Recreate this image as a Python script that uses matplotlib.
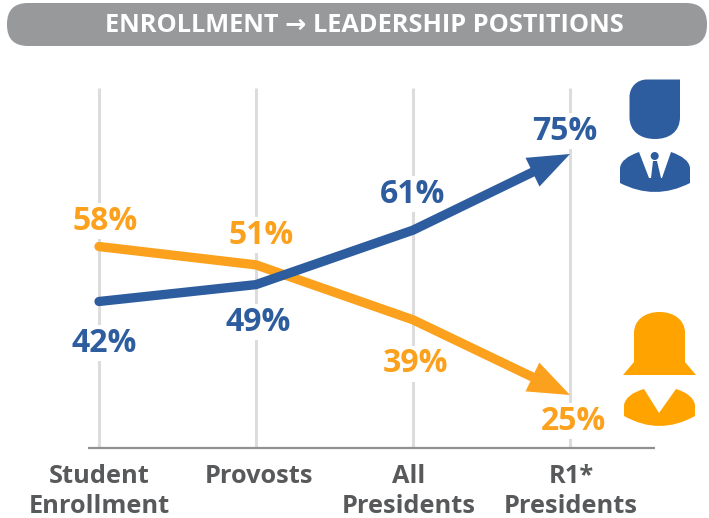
import matplotlib
matplotlib.use("Agg")
import matplotlib.pyplot as plt
from matplotlib.patches import Circle, FancyBboxPatch, PathPatch
from matplotlib.path import Path

# Chart data
categories = ["Student\nEnrollment", "Provosts", "All\nPresidents", "R1*\nPresidents"]
men_labels = [42, 49, 61, 75]
women_labels = [58, 51, 39, 25]
# heights the lines are drawn at; the original graphic is not to scale with its labels
men_heights = [44.4, 47.9, 59.2, 75.0]
women_heights = [55.8, 52.0, 40.6, 25.0]

BLUE = "#2e5d9f"
ORANGE = "#fba11d"
ICON_ORANGE = "#ffa300"
GREY = "#98999b"
TRACK = "#dcdcdc"
TEXT = "#58595b"

plt.rcParams["font.family"] = ["Open Sans", "DejaVu Sans"]

W, H = 709, 518
fig = plt.figure(figsize=(W / 100, H / 100), dpi=100)

# Pixel-coordinate axes for the banner, text and icons
bg = fig.add_axes([0, 0, 1, 1])
bg.set_xlim(0, W)
bg.set_ylim(H, 0)
bg.axis("off")

bg.add_patch(FancyBboxPatch((7, 3), 700, 43, boxstyle="round,pad=0,rounding_size=21", fc=GREY, ec="none"))
bg.text(364, 25, "ENROLLMENT → LEADERSHIP POSTITIONS", color="white", fontsize=18.3,
        fontweight="bold", ha="center", va="center")

# Data axes: 25 sits at 395px, 75 at 154px, categories every 157px from x=99
px_per_x = (570 - 99) / 3
px_per_val = (395 - 154) / 50
ax = fig.add_axes([0, 0, 1, 1], facecolor="none")
ax.set_xlim(-99 / px_per_x, (W - 99) / px_per_x)
ax.set_ylim(25 - (H - 395) / px_per_val, 25 + 395 / px_per_val)
ax.axis("off")

base_y = 25 - (448 - 395) / px_per_val
top_y = 25 + (395 - 88) / px_per_val
for i in range(len(categories)):
    ax.plot([i, i], [base_y, top_y], color=TRACK, lw=2.2, zorder=1, solid_capstyle="butt")
ax.plot([-0.07, 3.54], [base_y, base_y], color="#8f9092", lw=1.6, zorder=1.5, solid_capstyle="butt")


def arrow_line(heights, color, z):
    xs = list(range(len(heights)))
    frac = 0.78
    end_y = heights[2] + (heights[3] - heights[2]) * frac
    ax.plot(xs[:-1] + [2 + frac], heights[:-1] + [end_y], color=color, lw=6.7, zorder=z,
            solid_capstyle="round", solid_joinstyle="round")
    ax.annotate("", xy=(3, heights[3]), xytext=(2 + frac, end_y),
                arrowprops=dict(arrowstyle="-|>,head_length=3.0,head_width=1.15", color=color,
                                lw=0, shrinkA=0, shrinkB=0, mutation_scale=10), zorder=z)


arrow_line(women_heights, ORANGE, 2)
arrow_line(men_heights, BLUE, 3)

# Value labels, the white copy underneath breaks the gridlines but not the data lines
men_label_pos = [(104, 343), (258, 322), (413, 194), (565, 131)]
women_label_pos = [(105, 221), (261, 235), (415, 364), (573, 421)]
for pos, vals, color in [(men_label_pos, men_labels, BLUE), (women_label_pos, women_labels, ORANGE)]:
    for (px, py), v in zip(pos, vals):
        lx, ly = (px - 99) / px_per_x, 25 + (395 - py) / px_per_val
        ax.text(lx, ly, f"{v}%", color="white", fontsize=23, fontweight="bold", ha="center", va="center",
                zorder=1.2, bbox=dict(fc="white", ec="none", pad=1))
        ax.text(lx, ly, f"{v}%", color=color, fontsize=23, fontweight="bold", ha="center", va="center", zorder=5)

# Category labels
cat_pos = [99, 259, 409, 571]
for px, label in zip(cat_pos, categories):
    bg.text(px, 464, label, color=TEXT, fontsize=18.3, fontweight="bold", ha="center", va="top", linespacing=1.27)

# Man icon
head = Path([(680, 79.5), (680, 117), (680, 132), (669, 139), (655, 139), (641, 139), (629.5, 132), (629.5, 117),
             (629.5, 97), (629.5, 87), (637, 79.5), (647, 79.5), (680, 79.5)],
            [Path.MOVETO, Path.LINETO, Path.CURVE4, Path.CURVE4, Path.CURVE4, Path.CURVE4, Path.CURVE4, Path.CURVE4,
             Path.LINETO, Path.CURVE4, Path.CURVE4, Path.CURVE4, Path.CLOSEPOLY])
bg.add_patch(PathPatch(head, fc=BLUE, ec="none"))
body = Path([(620, 183), (620, 168), (621, 158), (639, 152), (649, 178), (651, 178), (653, 161), (657, 161),
             (661, 178), (662, 178), (671, 152), (689, 158), (690, 168), (690, 183), (655, 201), (620, 183)],
            [Path.MOVETO, Path.LINETO, Path.CURVE3, Path.CURVE3, Path.LINETO, Path.LINETO, Path.LINETO, Path.LINETO,
             Path.LINETO, Path.LINETO, Path.LINETO, Path.CURVE3, Path.CURVE3, Path.LINETO, Path.CURVE3, Path.CURVE3])
bg.add_patch(PathPatch(body, fc=BLUE, ec="none"))
bg.add_patch(Circle((654.7, 156), 4, fc=BLUE, ec="none"))

# Woman icon
hair = Path([(623, 375), (634, 362), (634, 333), (634, 320), (645, 312), (659.5, 312), (674, 312), (685, 320),
             (685, 333), (685, 362), (696, 375), (623, 375)],
            [Path.MOVETO, Path.LINETO, Path.LINETO, Path.CURVE4, Path.CURVE4, Path.CURVE4, Path.CURVE4, Path.CURVE4,
             Path.CURVE4, Path.LINETO, Path.LINETO, Path.CLOSEPOLY])
bg.add_patch(PathPatch(hair, fc=ICON_ORANGE, ec="none"))
torso = Path([(624, 416), (624, 405), (626, 394), (644, 389), (659, 413), (676, 389), (693, 394), (695, 405),
              (695, 416), (659.5, 436), (624, 416)],
             [Path.MOVETO, Path.LINETO, Path.CURVE3, Path.CURVE3, Path.LINETO, Path.LINETO, Path.CURVE3, Path.CURVE3,
              Path.LINETO, Path.CURVE3, Path.CURVE3])
bg.add_patch(PathPatch(torso, fc=ICON_ORANGE, ec="none"))

fig.savefig("out.png", dpi=100)
